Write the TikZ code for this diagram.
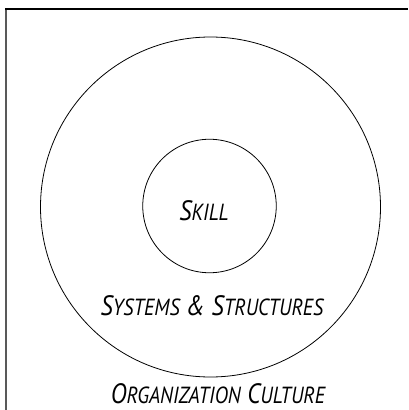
\documentclass[tikz,border=0pt]{standalone}
\usepackage{fontspec}
\setmainfont{PT Sans}[ItalicFeatures={FakeStretch=0.86}]
% capital first letter, the rest set as smaller capitals
\newcommand{\fakesc}[2]{{\fontsize{21}{24}\selectfont #1}{\fontsize{17.5}{20}\selectfont #2}}
\tikzset{
	ring/.style={draw, circle, line width=0.6pt, inner sep=0pt},
	tag/.style={font=\itshape, inner sep=0pt, anchor=base}
}
\begin{document}
\begin{tikzpicture}[x=0.75pt, y=-0.75pt]
	\useasboundingbox (0,0) rectangle (409,410);
	% frame, only the top and left sides show
	\draw[line width=1.5pt, gray!70!black] (6,410) -- (6,8.8);
	\draw[line width=1.2pt] (5.3,8.8) -- (408,8.8);
	\node[ring, minimum size=340*0.75pt] (outer) at (210.5,207) {};
	\node[ring, minimum size=133.5*0.75pt] (inner) at (209.5,206) {};
	\node[tag] (skill) at (204,220.5) {\fakesc{S}{KILL}};
	\node[tag] (systems) at (212,315) {\fakesc{S}{YSTEMS}\enspace\fakesc{\&}{}\enspace\fakesc{S}{TRUCTURES}};
	\node[tag] (culture) at (218,403) {\fakesc{O}{RGANIZATION}\enspace\fakesc{C}{ULTURE}};
\end{tikzpicture}
\end{document}
